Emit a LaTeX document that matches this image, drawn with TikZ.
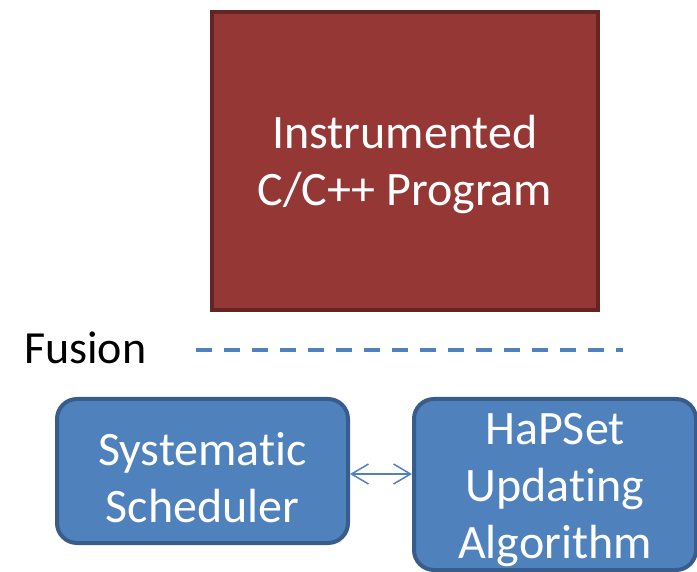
\documentclass[tikz,border=0pt]{standalone}
\usepackage{fontspec}
\setmainfont{Carlito}[Ligatures=NoCommon]
\usepackage{tikz}
\usetikzlibrary{arrows.meta,positioning}
\definecolor{progred}{HTML}{953735}
\definecolor{progedge}{HTML}{632523}
\definecolor{boxblue}{HTML}{4F81BD}
\definecolor{boxedge}{HTML}{385D8A}
\tikzset{
  progbox/.style={draw=progedge, fill=progred, line width=4pt, inner sep=0pt},
  bluebox/.style={draw=boxedge, fill=boxblue, line width=4pt, rounded corners=20pt, inner sep=0pt},
  boxtext/.style={align=center, inner sep=0pt, text=white, font=\fontsize{48}{57}\selectfont},
  biarrow/.style={{Straight Barb[length=17pt,width=20pt]}-{Straight Barb[length=17pt,width=20pt]}, line width=1.5pt, draw=boxblue},
  dashline/.style={draw=boxblue, line width=3.5pt, dash pattern=on 16pt off 12pt},
  lbl/.style={font=\fontsize{46}{56}\selectfont, inner sep=0pt}
}
\begin{document}
\begin{tikzpicture}[x=1pt,y=-1pt]
\useasboundingbox (0,0) rectangle (697,572);
% program under test
\node[progbox, minimum width=386pt, minimum height=298pt] (prog) at (405,161) {};
\node[boxtext] (progtxt) at ([yshift=-3pt]prog.center) {Instrumented\\C/C++ Program};
% fusion separator
\node[lbl, anchor=base west] (fusion) at (24,363) {Fusion};
\coordinate (sepL) at (196,350);
\coordinate (sepR) at (623,350);
\draw[dashline] (sepL) -- (sepR);
% components
\node[bluebox, minimum width=291pt, minimum height=144pt] (sched) at (202.5,471) {};
\node[boxtext] (schedtxt) at ([yshift=-7pt]sched.center) {Systematic\\Scheduler};
\node[bluebox, minimum width=282pt, minimum height=171pt] (hapset) at (555,484.5) {};
\node[boxtext] (hapsettxt) at ([yshift=-6pt]hapset.center) {HaPSet\\Updating\\Algorithm};
\draw[biarrow] ([yshift=-3pt]sched.east) -- ([yshift=-3pt]sched.east -| hapset.west);
\end{tikzpicture}
\end{document}
